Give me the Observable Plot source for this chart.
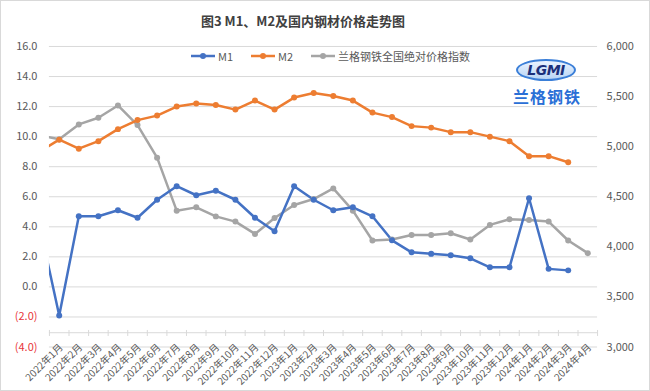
<!DOCTYPE html>
<html>
<head>
<meta charset="utf-8">
<script src="https://cdn.jsdelivr.net/npm/d3@7"></script>
<script src="https://cdn.jsdelivr.net/npm/@observablehq/plot@0.6"></script>
<style>
  html, body { margin: 0; padding: 0; background: #fff; }
  #wrap { position: relative; width: 650px; height: 391px; box-sizing: border-box; border: 1px solid #d9d9d9; overflow: hidden; font-family: "Noto Sans CJK SC", "DejaVu Sans", sans-serif; }
  #title { position: absolute; left: 0; top: 10px; width: 604px; text-align: center; font-size: 13px; font-weight: bold; color: #404040; }
  #chart { position: absolute; left: -1px; top: 34px; }
  #legend { position: absolute; top: 47px; left: 190px; display: flex; align-items: center; font-size: 11px; color: #595959; }
  #legend .item { display: flex; align-items: center; margin-right: 18px; }
  #legend svg { margin-right: 3px; }
  #logo { position: absolute; left: 512px; top: 58px; width: 76px; }
  #logo .ell { margin-left: 3px; width: 56px; height: 18px; border-radius: 50%; border: 2px solid #3b7fd8; background: linear-gradient(#eaf3ff, #b9d5f5); text-align: center; font: italic bold 14px/18px "DejaVu Sans", sans-serif; color: #1b2f7a; letter-spacing: -0.5px; }
  #logo .cn { margin-top: 3px; font-size: 16px; font-weight: bold; color: #2a6fd6; letter-spacing: 1px; }
</style>
</head>
<body>
<div id="wrap">
  <div id="title">图3 M1、M2及国内钢材价格走势图</div>
  <div id="chart"></div>
  <div id="legend"></div>
  <div id="logo"><div class="ell">LGMI</div><div class="cn">兰格钢铁</div></div>
</div>
<script>
// ---- data (first entry is the month before the axis window, clipped at the left edge) ----
const months = ["2021年12月",
  "2022年1月","2022年2月","2022年3月","2022年4月","2022年5月","2022年6月",
  "2022年7月","2022年8月","2022年9月","2022年10月","2022年11月","2022年12月",
  "2023年1月","2023年2月","2023年3月","2023年4月","2023年5月","2023年6月",
  "2023年7月","2023年8月","2023年9月","2023年10月","2023年11月","2023年12月",
  "2024年1月","2024年2月","2024年3月","2024年4月"];
const m1 = [4.1, -1.9, 4.7, 4.7, 5.1, 4.6, 5.8, 6.7, 6.1, 6.4, 5.8, 4.6, 3.7,
  6.7, 5.8, 5.1, 5.3, 4.7, 3.1, 2.3, 2.2, 2.1, 1.9, 1.3, 1.3, 5.9, 1.2, 1.1, null];
const m2 = [9.0, 9.8, 9.2, 9.7, 10.5, 11.1, 11.4, 12.0, 12.2, 12.1, 11.8, 12.4, 11.8,
  12.6, 12.9, 12.7, 12.4, 11.6, 11.3, 10.7, 10.6, 10.3, 10.3, 10.0, 9.7, 8.7, 8.7, 8.3, null];
const priceIndex = [5115, 5073, 5222, 5288, 5411, 5215, 4890, 4361, 4394, 4304, 4252, 4129, 4288,
  4417, 4477, 4583, 4361, 4063, 4073, 4119, 4119, 4135, 4073, 4219, 4275, 4268, 4252, 4063, 3937];
const leftTicks = [-4, -2, 0, 2, 4, 6, 8, 10, 12, 14, 16];
const rightTicks = [3000, 3500, 4000, 4500, 5000, 5500, 6000];
const seriesNames = ["M1", "M2", "兰格钢铁全国绝对价格指数"];
const colors = ["#4472c4", "#ed7d31", "#a5a5a5"];

// ---- helpers ----
const lMin = -4, lMax = 16, rMin = 3000, rMax = 6000;
const toLeft = v => v == null ? null : (v - rMin) / (rMax - rMin) * (lMax - lMin) + lMin;
const fromLeft = v => (v - lMin) / (lMax - lMin) * (rMax - rMin) + rMin;
const axisCross = -3.05;
const rows = months.map((m, k) => ({i: k - 1, month: m, m1: m1[k], m2: m2[k], idx: toLeft(priceIndex[k])}));
const shown = rows.filter(d => d.i >= 0);
const boundaries = d3.range(-0.5, shown.length, 1);
const fmtComma = d3.format(",");

const chart = Plot.plot({
  width: 650, height: 357,
  marginTop: 11, marginBottom: 45, marginLeft: 49, marginRight: 52,
  x: {type: "linear", domain: [-0.5, shown.length - 0.5], axis: null},
  y: {domain: [lMin, lMax], axis: null},
  style: {fontFamily: "'Noto Sans CJK SC', 'DejaVu Sans', sans-serif", background: "transparent"},
  marks: [
    Plot.ruleY(leftTicks, {stroke: "#d9d9d9", strokeWidth: 1}),
    Plot.ruleY([axisCross], {stroke: "#d9d9d9", strokeWidth: 1}),
    Plot.ruleX(boundaries, {x: d => d, y1: axisCross + 0.15, y2: axisCross - 0.25, stroke: "#d9d9d9"}),
    Plot.axisY(leftTicks.filter(d => d >= 0), {anchor: "left", tickSize: 0, tickPadding: 12, fontSize: 11, color: "#595959", tickFormat: d => d.toFixed(1)}),
    Plot.axisY(leftTicks.filter(d => d < 0), {anchor: "left", tickSize: 0, tickPadding: 12, fontSize: 11, color: "#e8353a", tickFormat: d => `(${(-d).toFixed(1)})`}),
    Plot.axisY(rightTicks.map(toLeft), {anchor: "right", tickSize: 0, tickPadding: 9, fontSize: 11, color: "#595959", tickFormat: d => fmtComma(Math.round(fromLeft(d)))}),
    Plot.text(shown, {x: "i", y: () => axisCross, text: "month", rotate: -45, textAnchor: "end", dx: 2, dy: 13, fontSize: 10, fill: "#595959"}),
    Plot.lineY(rows, {x: "i", y: "idx", stroke: colors[2], strokeWidth: 2.5, clip: true}),
    Plot.lineY(rows, {x: "i", y: "m2", stroke: colors[1], strokeWidth: 2.5, clip: true}),
    Plot.lineY(rows, {x: "i", y: "m1", stroke: colors[0], strokeWidth: 2.5, clip: true}),
    Plot.dot(shown.filter(d => d.idx != null), {x: "i", y: "idx", r: 3, fill: colors[2]}),
    Plot.dot(shown.filter(d => d.m2 != null), {x: "i", y: "m2", r: 3, fill: colors[1]}),
    Plot.dot(shown.filter(d => d.m1 != null), {x: "i", y: "m1", r: 3, fill: colors[0]})
  ]
});
document.getElementById("chart").appendChild(chart);

// legend
const legend = document.getElementById("legend");
seriesNames.forEach((name, k) => {
  const item = document.createElement("div");
  item.className = "item";
  item.innerHTML = `<svg width="24" height="8"><line x1="0" y1="4" x2="24" y2="4" stroke="${colors[k]}" stroke-width="2.5"/><circle cx="12" cy="4" r="3" fill="${colors[k]}"/></svg><span>${name}</span>`;
  legend.appendChild(item);
});
</script>
</body>
</html>
